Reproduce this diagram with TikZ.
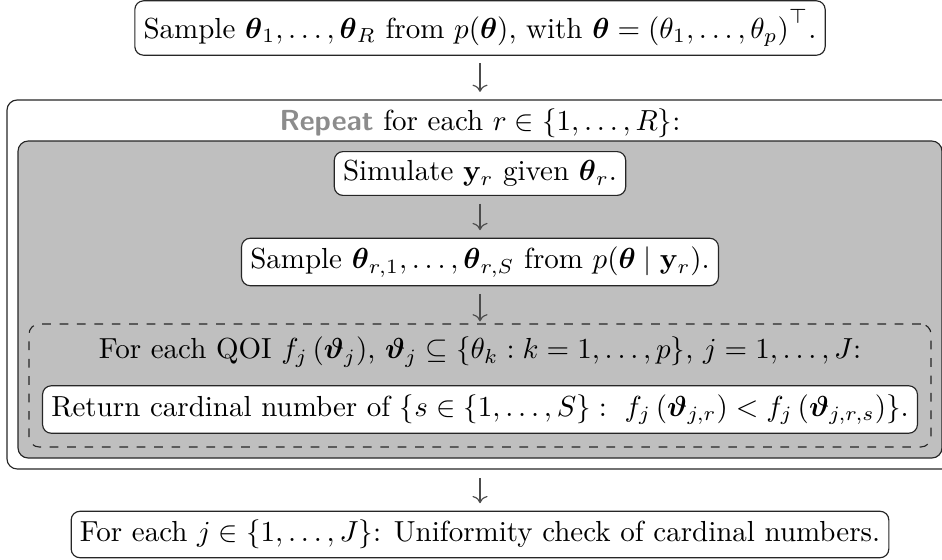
\documentclass[tikz,border=0pt]{standalone}
\usepackage{amsmath}
\usepackage{amssymb}
\usepackage{xcolor}
\usepackage{tikz}
\usetikzlibrary{arrows.meta,positioning}
\definecolor{shade}{HTML}{BFBFBF}

\begin{document}
\begin{tikzpicture}[x=1pt,y=1pt,
  bx/.style={draw=black!85,rounded corners=3pt,fill=white,inner sep=3pt},
  frame/.style={draw=black!85,rounded corners=3.5pt,inner sep=0pt},
  arr/.style={->,draw=black!70,shorten <=2.6pt,shorten >=2.6pt}]
\useasboundingbox (0,0) rectangle (324.83,-193.10);
% nested frames
\node[frame,minimum width=326.21pt,minimum height=127.24pt] (outer) at (165.52,-98.10) {};
\node[frame,fill=shade,minimum width=318.62pt,minimum height=109.31pt] (loop) at (165.52,-103.28) {};
\node[frame,dashed,minimum width=311.03pt,minimum height=42.41pt] (qoiframe) at (165.52,-132.93) {};
% steps
\node[bx] (prior) at (165.52,-9.66) {Sample $\boldsymbol{\theta}_1,\dots,\boldsymbol{\theta}_R$ from $p(\boldsymbol{\theta})$, with $\boldsymbol{\theta}=\left(\theta_1,\dots,\theta_p\right)^{\top}$.};
\node (repeat) at (165.52,-42.41) {\textcolor{black!45}{\textsf{\textbf{Repeat}}} for each $r\in\{1,\dots,R\}$:};
\node[bx] (simul) at (165.52,-59.83) {Simulate $\mathbf{y}_r$ given $\boldsymbol{\theta}_r$.};
\node[bx] (post) at (165.52,-90.34) {Sample $\boldsymbol{\theta}_{r,1},\dots,\boldsymbol{\theta}_{r,S}$ from $p(\boldsymbol{\theta}\mid\mathbf{y}_r)$.};
\node (qoi) at (165.52,-121.38) {For each QOI $f_j\left(\boldsymbol{\vartheta}_j\right)$, $\boldsymbol{\vartheta}_j\subseteq\{\theta_k:k=1,\dots,p\}$, $j=1,\dots,J$:};
\node[bx] (rank) at (165.52,-141.21) {Return cardinal number of $\{s\in\{1,\dots,S\}:\ f_j\left(\boldsymbol{\vartheta}_{j,r}\right)<f_j\left(\boldsymbol{\vartheta}_{j,r,s}\right)\}$.};
\node[bx] (check) at (165.52,-184.31) {For each $j\in\{1,\dots,J\}$: Uniformity check of cardinal numbers.};
% arrows
\draw[arr] (prior) -- (outer);
\draw[arr] (simul) -- (post);
\draw[arr,shorten >=0.7pt] (post) -- (qoiframe);
\draw[arr,shorten <=3pt] (outer) -- (check);
\end{tikzpicture}
\end{document}
